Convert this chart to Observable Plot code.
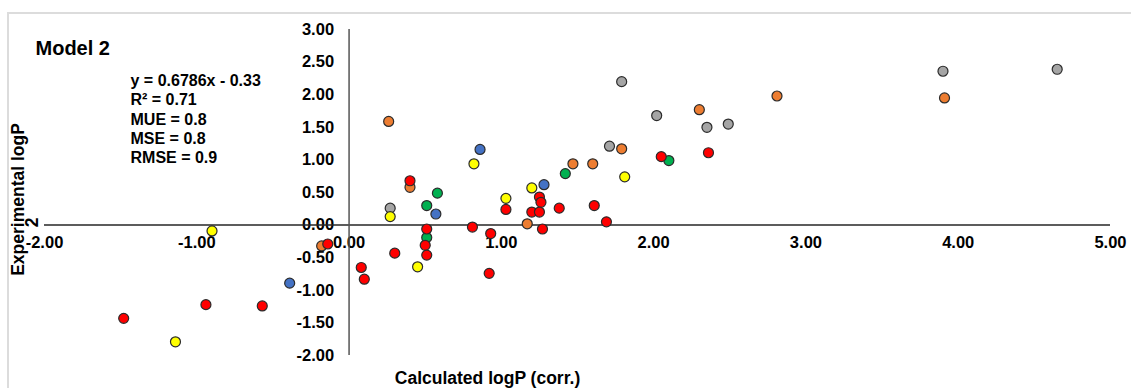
<!DOCTYPE html>
<html><head><meta charset="utf-8">
<script src="https://cdn.jsdelivr.net/npm/d3@7"></script>
<script src="https://cdn.jsdelivr.net/npm/@observablehq/plot@0.6"></script>
<style>
html,body{margin:0;padding:0;background:#fff;}
#wrap{position:relative;width:1131px;height:388px;overflow:hidden;}
#border{position:absolute;left:7px;top:12px;right:-10px;bottom:-10px;border-top:2px solid #dcdcdc;border-left:2px solid #dcdcdc;}
#chart{position:absolute;left:0;top:0;}
</style></head><body>
<div id="wrap"><div id="border"></div><div id="chart"></div></div>
<script>
// Series (drawing order) and colours
const groups = ["Series O", "Series G", "Series Y", "Series B", "Series Gr", "Series R"];
const groupColors = ["#ED7D31", "#A5A5A5", "#FFFF00", "#4472C4", "#00B050", "#FF0000"];

// Calculated logP (corr.) vs experimental logP, per series
const orangeCalc = [0.26, 0.40, 1.17, 1.47, 1.60, 1.79, 2.30, 2.81, 3.91, -0.18];
const orangeExp  = [1.59, 0.58, 0.02, 0.94, 0.94, 1.17, 1.77, 1.98, 1.95, -0.32];
const grayCalc = [0.27, 1.71, 2.02, 2.35, 2.49, 3.90, 4.65, 1.79];
const grayExp  = [0.26, 1.21, 1.68, 1.50, 1.55, 2.36, 2.39, 2.20];
const yellowCalc = [0.82, 0.27, 0.45, 1.03, 1.20, 1.81, -0.90, -1.14];
const yellowExp  = [0.94, 0.13, -0.64, 0.41, 0.57, 0.74, -0.09, -1.79];
const blueCalc = [0.86, 0.57, 1.28, -0.39];
const blueExp  = [1.16, 0.17, 0.62, -0.89];
const greenCalc = [0.58, 0.51, 0.51, 1.42, 2.10];
const greenExp  = [0.49, 0.30, -0.19, 0.79, 0.99];
const redCalc = [0.40, 0.51, 0.50, 0.51, 0.30, 0.08, 0.10, 0.81, 0.93, 0.92, 1.03, 1.25, 1.26, 1.20, 1.25, 1.27, 1.38, 1.61, 1.69, 2.05, 2.36, -0.14, -0.94, -0.57, -1.48];
const redExp  = [0.68, -0.06, -0.31, -0.46, -0.43, -0.65, -0.83, -0.03, -0.13, -0.74, 0.24, 0.43, 0.35, 0.20, 0.20, -0.06, 0.26, 0.30, 0.05, 1.05, 1.11, -0.29, -1.22, -1.24, -1.43];

// Axis ticks
const xTicks = [-2, -1, 0, 1, 2, 3, 4, 5];
const yTicks = [-2, -1.5, -1, -0.5, 0, 0.5, 1, 1.5, 2, 2.5, 3];

// Texts
const chartTitle = "Model 2";
const statsLines = ["y = 0.6786x - 0.33", "R\u00B2 = 0.71", "MUE = 0.8", "MSE = 0.8", "RMSE = 0.9"];
const xTitle = "Calculated logP (corr.)";
const yTitle = "Experimental logP";
const yTitleExtra = "2";

const seriesCalc = [orangeCalc, grayCalc, yellowCalc, blueCalc, greenCalc, redCalc];
const seriesExp = [orangeExp, grayExp, yellowExp, blueExp, greenExp, redExp];
const data = groups.flatMap((g, k) => seriesCalc[k].map((c, i) => ({group: g, calc: c, exp: seriesExp[k][i]})));

const font = "'Liberation Sans', Arial, Helvetica, sans-serif";
const fmt = d => d.toFixed(2);

const chart = Plot.plot({
  width: 1131,
  height: 388,
  marginLeft: 44,
  marginRight: 21,
  marginTop: 29,
  marginBottom: 33,
  style: {fontFamily: font, fontWeight: "bold", background: "transparent", color: "#000"},
  x: {domain: [-2, 5], axis: null},
  y: {domain: [-2, 3], axis: null},
  color: {type: "ordinal", domain: groups, range: groupColors},
  marks: [
    Plot.text(xTicks, {x: d => d, y: 0, dy: 17.5, text: fmt, fontSize: 16.5, fill: "#000"}),
    Plot.text(yTicks, {x: 0, y: d => d, dx: -15, textAnchor: "end", text: fmt, fontSize: 16.5, fill: "#000"}),
    Plot.ruleY([0], {x1: -2, x2: 5, stroke: "#262626", strokeWidth: 1.5}),
    Plot.ruleX([0], {y1: -2, y2: 3, stroke: "#555", strokeWidth: 1.5}),
    Plot.dot(data, {x: "calc", y: "exp", fill: "group", r: 5, stroke: "#2b2b2b", strokeWidth: 1.2}),
    Plot.text([chartTitle], {frameAnchor: "top-left", textAnchor: "start", lineAnchor: "middle", dx: -9, dy: 19.5, fontSize: 20, fill: "#000"}),
    Plot.text([statsLines.join("\n")], {frameAnchor: "top-left", textAnchor: "start", lineAnchor: "middle", dx: 86, dy: 89, fontSize: 16, lineHeight: 1.2, fill: "#000"}),
    Plot.text([xTitle], {frameAnchor: "bottom", textAnchor: "middle", lineAnchor: "middle", dx: -90, dy: 23, fontSize: 17.5, fill: "#000"}),
    Plot.text([yTitle], {frameAnchor: "left", textAnchor: "middle", lineAnchor: "middle", rotate: -90, dx: -26, dy: 7, fontSize: 17.5, fill: "#000"}),
    Plot.text([yTitleExtra], {frameAnchor: "left", textAnchor: "middle", lineAnchor: "middle", rotate: -90, dx: -12, dy: 30, fontSize: 17.5, fill: "#000"})
  ]
});
document.getElementById("chart").appendChild(chart);
</script>
</body></html>
